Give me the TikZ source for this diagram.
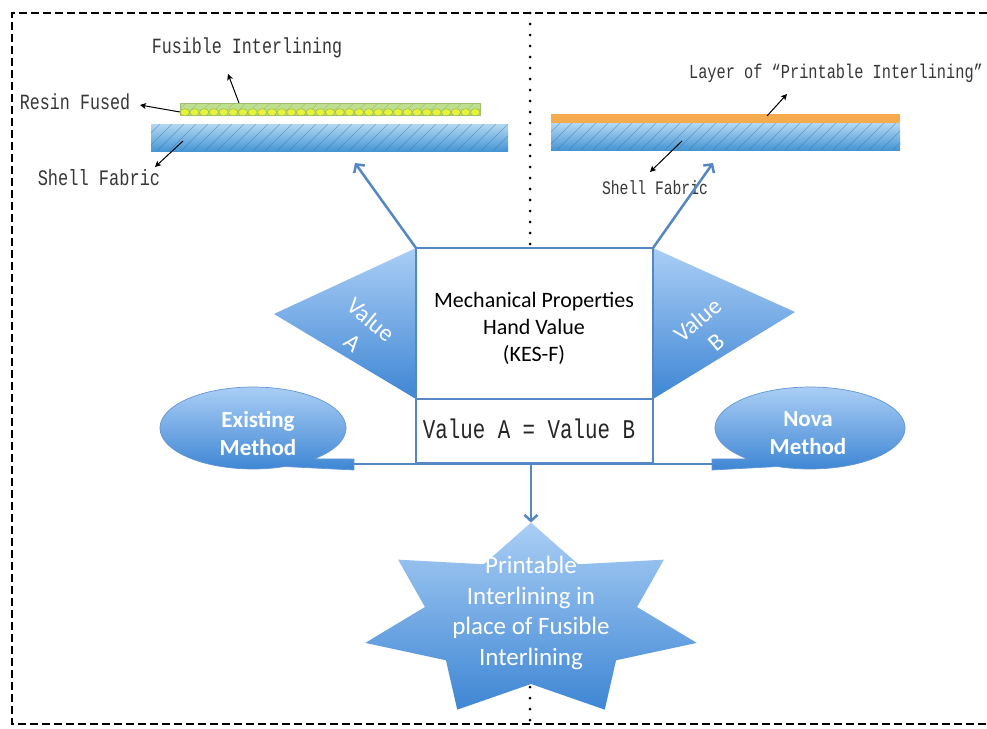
\documentclass[tikz,border=0pt]{standalone}
\usepackage{fontspec}
\setmainfont{Carlito}
\newfontfamily\monofnt{Liberation Mono}
\usepackage{graphicx}
\usetikzlibrary{shapes.geometric,arrows.meta,calc}

\definecolor{boxblue}{RGB}{84,135,196}
\definecolor{labelgray}{RGB}{55,55,55}
\definecolor{fabtop}{RGB}{180,216,241}
\definecolor{fabbot}{RGB}{70,150,212}
\definecolor{hatchblue}{RGB}{50,110,175}
\definecolor{resingreen}{RGB}{190,223,142}
\definecolor{beadyellow}{RGB}{232,242,62}
\definecolor{beadedge}{RGB}{145,188,70}
\definecolor{printorange}{RGB}{245,170,75}
\definecolor{shapetop}{RGB}{170,206,245}
\definecolor{shapebot}{RGB}{62,134,212}
\definecolor{ovaledge}{RGB}{100,150,215}

% monospaced caption text, stretched vertically
\newcommand\monotext[2]{{\monofnt\fontsize{#1}{#1}\selectfont\scalebox{1}[1.3]{#2}}}

\pgfdeclarelayer{bg}
\pgfsetlayers{bg,main}

\tikzset{
  frame/.style={line width=2.2pt, dash pattern=on 8pt off 4pt, black},
  dotline/.style={line width=3pt, line cap=round, dash pattern=on 0pt off 11pt, black},
  fabric/.style={rectangle, inner sep=0pt, outer sep=0pt, top color=fabtop, bottom color=fabbot,
    path picture={\foreach \k in {-30,-18,...,400}
      \draw[hatchblue, line width=0.45pt, opacity=0.5]
        ([xshift=\k]path picture bounding box.south west) -- ++(30pt,30pt);}},
  resin/.style={rectangle, inner sep=0pt, outer sep=0pt, fill=resingreen, draw=resingreen!85!black, line width=0.4pt,
    path picture={\foreach \k in {-30,-18,...,330}
      \draw[resingreen!70!black, line width=0.4pt, opacity=0.4]
        ([xshift=\k]path picture bounding box.south west) -- ++(20pt,20pt);}},
  bead/.style={fill=beadyellow, draw=beadedge, line width=0.5pt},
  printlayer/.style={rectangle, inner sep=0pt, outer sep=0pt, fill=printorange},
  notetext/.style={text=labelgray, inner sep=0pt},
  pointer/.style={black, line width=1pt, -{Stealth[length=6pt,width=6pt,inset=1.5pt]}},
  mainbox/.style={rectangle, draw=boxblue, line width=2.5pt, fill=white, inner sep=0pt, outer sep=0pt},
  bluearrow/.style={draw=boxblue, line width=2.5pt, -{Straight Barb[length=6pt,width=13pt]}},
  blueline/.style={draw=boxblue, line width=2.5pt},
  bluefill/.style={top color=shapetop, bottom color=shapebot},
  callout/.style={bluefill, draw=ovaledge, line width=0.7pt},
  whitetext/.style={text=white, align=center, inner sep=0pt},
}

\begin{document}
\begin{tikzpicture}[x=1pt,y=-1pt]
\useasboundingbox (0,0) rectangle (987,728);
\begin{pgfonlayer}{bg}
  \fill[white] (0,0) rectangle (987,728);
\end{pgfonlayer}

% outer dashed frame and dotted divider
\draw[frame] (987,13) -- (12,13) -- (12,724) -- (987,724);
\draw[dotline] (530,13) -- (530,246);
\draw[dotline] (530,687) -- (530,724);

% ---- left: fusible interlining on shell fabric
\node[fabric, minimum width=357pt, minimum height=27pt] (shellL) at (329.5,137.5) {};
\node[resin, minimum width=300pt, minimum height=12pt] (fuse) at (330,109) {};
\foreach \i in {0,...,30}
  \draw[bead] (184.84+\i*9.68,112.3) ellipse [x radius=4.7, y radius=3.6];

\node[notetext] (tFuse) at (247,48) {\monotext{16.7}{Fusible Interlining}};
\node[notetext] (tResin) at (75,102) {\monotext{16.7}{Resin Fused}};
\node[notetext] (tShellL) at (99,178) {\monotext{17}{Shell Fabric}};

\coordinate (pFuse) at (228,74);
\coordinate (pResin) at (140,105);
\coordinate (pShellL) at (155,167);
\draw[pointer] ([xshift=59]fuse.north west) -- (pFuse);
\draw[pointer] ([yshift=-3]fuse.west) -- (pResin);
\draw[pointer] ([xshift=32,yshift=-3.5]shellL.west) -- (pShellL);

% ---- right: printable interlining layer on shell fabric
\node[printlayer, minimum width=349pt, minimum height=9pt] (print) at (725.5,118.5) {};
\node[fabric, minimum width=349pt, minimum height=27pt] (shellR) at (725.5,136.5) {};

\node[notetext] (tLayer) at (836,73) {\monotext{15.3}{Layer of “Printable Interlining”}};
\node[notetext] (tShellR) at (655,188) {\monotext{14.7}{Shell Fabric}};

\coordinate (pLayer) at (787,94);
\coordinate (pShellR) at (650,172);
\draw[pointer] ([xshift=216,yshift=-2]print.north west) -- (pLayer);
\draw[pointer] ([xshift=131,yshift=-4.5]shellR.west) -- (pShellR);

% ---- central comparison block
\node[mainbox, minimum width=237pt, minimum height=151pt] (box) at (534.5,323.5) {};
\node[mainbox, minimum width=237pt, minimum height=64pt] (eqbox) at (534.5,431) {};
\node[inner sep=0pt, align=center, font=\fontsize{22}{27}\selectfont] (boxT) at (534,328)
  {Mechanical Properties\\Hand Value\\(KES-F)};
\node[inner sep=0pt, text=black!85] (eqT) at (529,429) {\monotext{20.8}{Value A = Value B}};

\coordinate (tipA) at (274,314);
\coordinate (tipB) at (795,312);
\begin{pgfonlayer}{bg}
  \shade[bluefill] (box.north west) -- (tipA) -- (box.south west) -- cycle;
  \shade[bluefill] (box.north east) -- (tipB) -- (box.south east) -- cycle;
\end{pgfonlayer}
\node[whitetext, rotate=-40, font=\fontsize{24}{29}\selectfont] (valA) at (362,331) {Value\\A};
\node[whitetext, rotate=40, font=\fontsize{24}{29}\selectfont] (valB) at (707,331) {Value\\B};

\coordinate (upL) at (355,163);
\coordinate (upR) at (713,163);
\draw[bluearrow] (box.north west) -- (upL);
\draw[bluearrow] (box.north east) -- (upR);

% ---- methods: oval callouts with a flat tail meeting the bus line
\shade[callout] plot[domain=70:409, samples=80] ({253+93*cos(\x)}, {428+41*sin(\x)})
  -- (354,459) -- (354,470) -- cycle;
\shade[callout] plot[domain=131:470, samples=80] ({810+95*cos(\x)}, {428+41*sin(\x)})
  -- (712,470) -- (712,459) -- cycle;
\coordinate (exTab) at (354,464);
\coordinate (novaTab) at (712,464);
\node[whitetext, font=\bfseries\fontsize{23}{28}\selectfont] (existT) at (258,433) {Existing\\Method};
\node[whitetext, font=\bfseries\fontsize{23}{28}\selectfont] (novaT) at (808,433) {Nova\\Method};
\draw[blueline] (exTab) -- (novaTab);

% ---- result star (seven points)
\shade[bluefill] plot[samples at={0,...,13}]
  ({531+170*ifthenelse(mod(\x,2)==0,1,0.64)*cos(90-\x*180/7)},
   {621-98.4*ifthenelse(mod(\x,2)==0,1,0.64)*sin(90-\x*180/7)}) -- cycle;
\coordinate (startop) at (531,522.6);
\node[whitetext, font=\fontsize{25}{30.5}\selectfont] (starT) at (531,613)
  {Printable\\Interlining in\\place of Fusible\\Interlining};
\draw[bluearrow] (startop |- eqbox.south) -- (startop);
\end{tikzpicture}
\end{document}
